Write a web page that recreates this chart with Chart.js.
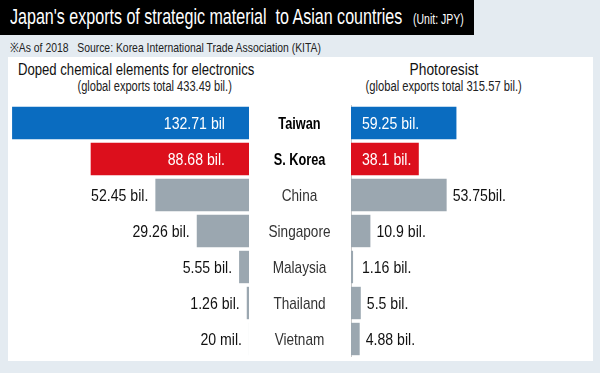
<!DOCTYPE html>
<html>
<head>
<meta charset="utf-8">
<script src="https://cdn.jsdelivr.net/npm/chart.js@4"></script>
<style>
  html, body { margin: 0; padding: 0; }
  body {
    width: 600px; height: 373px; position: relative; overflow: hidden;
    background: #e4ebf1;
    font-family: 'Liberation Sans', Arial, sans-serif;
  }
  .t { position: absolute; white-space: nowrap; }
  .t span { display: inline-block; }
  #titlebar { position: absolute; left: 0; top: 0; width: 474px; height: 35px; background: #000; }
  #panel { position: absolute; left: 8px; top: 57px; width: 585px; height: 304px; background: #fff; }
  canvas { position: absolute; }
</style>
</head>
<body>
<div id="titlebar"></div>
<div class="t" style="left:10px; top:4px; font-size:22px; color:#fff;"><span style="transform:scaleX(0.73); transform-origin:left center;">Japan's exports of strategic material&nbsp; to Asian countries</span></div>
<div class="t" style="left:413px; top:11px; font-size:14px; color:#fff;"><span style="transform:scaleX(0.75); transform-origin:left center;">(Unit: JPY)</span></div>
<div class="t" style="left:10px; top:38px; font-size:13px; color:#222;"><span style="transform:scaleX(0.8); transform-origin:left center;">※As of 2018&nbsp;&nbsp; Source: Korea International Trade Association (KITA)</span></div>
<div id="panel"></div>
<div class="t" style="left:18px; top:61px; font-size:16px; color:#111;"><span style="transform:scaleX(0.82); transform-origin:left center;">Doped chemical elements for electronics</span></div>
<div class="t" style="left:55px; width:200px; text-align:center; top:78px; font-size:14px; color:#222;"><span style="transform:scaleX(0.79); transform-origin:center center;">(global exports total 433.49 bil.)</span></div>
<div class="t" style="left:344px; width:200px; text-align:center; top:61px; font-size:16px; color:#111;"><span style="transform:scaleX(0.86); transform-origin:center center;">Photoresist</span></div>
<div class="t" style="left:344px; width:200px; text-align:center; top:78px; font-size:14px; color:#222;"><span style="transform:scaleX(0.8); transform-origin:center center;">(global exports total 315.57 bil.)</span></div>
<canvas id="leftChart" style="left:8px; top:105px;" width="241" height="252"></canvas>
<canvas id="rightChart" style="left:248px; top:105px;" width="345" height="252"></canvas>
<script>
const countries = ['Taiwan', 'S. Korea', 'China', 'Singapore', 'Malaysia', 'Thailand', 'Vietnam'];
const dopedValues = [132.71, 88.68, 52.45, 29.26, 5.55, 1.26, 0.02];
const dopedLabels = ['132.71 bil', '88.68 bil.', '52.45 bil.', '29.26 bil.', '5.55 bil.', '1.26 bil.', '20 mil.'];
const photoValues = [59.25, 38.1, 53.75, 10.9, 1.16, 5.5, 4.88];
const photoLabels = ['59.25 bil.', '38.1 bil.', '53.75bil.', '10.9 bil.', '1.16 bil.', '5.5 bil.', '4.88 bil.'];
const barColors = ['#0a6cc0', '#dc0f1c', '#9ba7b0', '#9ba7b0', '#9ba7b0', '#9ba7b0', '#9ba7b0'];

const FONT = "'Liberation Sans', Arial, sans-serif";

// narrow text: the original uses a condensed gothic face
function narrowText(ctx, text, x, y, align, sx) {
    ctx.save();
    ctx.translate(x, y);
    ctx.scale(sx, 1);
    ctx.textAlign = align;
    ctx.fillText(text, 0, 0);
    ctx.restore();
}

// value text beside / inside each bar
function valueLabels(texts, side) {
    return {
        id: 'valueLabels',
        afterDatasetsDraw(chart) {
            const ctx = chart.ctx;
            const meta = chart.getDatasetMeta(0);
            ctx.save();
            ctx.font = '17px ' + FONT;
            ctx.textBaseline = 'middle';
            meta.data.forEach((bar, i) => {
                const inside = i < 2;
                ctx.fillStyle = inside ? '#fff' : '#111';
                if (side === 'left') {
                    const x = inside ? bar.base - 24 : Math.min(bar.x - 7, bar.base - 6);
                    narrowText(ctx, texts[i], x, bar.y + 1, 'right', 0.83);
                } else {
                    const x = inside ? bar.base + 11 : Math.max(bar.x + 6, bar.base + 11);
                    narrowText(ctx, texts[i], x, bar.y + 1, 'left', 0.83);
                }
            });
            ctx.restore();
        }
    };
}

// country names in the gap between the two halves, on the y scale's ticks
const categoryNames = {
    id: 'categoryNames',
    afterDraw(chart) {
        const ctx = chart.ctx;
        const yScale = chart.scales.y;
        const cx = yScale.left + yScale.width / 2;
        ctx.save();
        ctx.textBaseline = 'middle';
        chart.data.labels.forEach((name, i) => {
            const strong = i < 2;
            ctx.font = (strong ? 'bold ' : '') + '17px ' + FONT;
            ctx.fillStyle = strong ? '#000' : '#333';
            narrowText(ctx, name, cx, yScale.getPixelForTick(i) + 1, 'center', strong ? 0.75 : 0.8);
        });
        ctx.restore();
    }
};

new Chart(document.getElementById('leftChart'), {
    type: 'bar',
    data: {
        labels: countries,
        datasets: [{
            data: dopedValues,
            backgroundColor: barColors,
            barPercentage: 1,
            categoryPercentage: 0.9
        }]
    },
    options: {
        indexAxis: 'y',
        responsive: false,
        animation: false,
        layout: { padding: 0 },
        plugins: { legend: { display: false }, tooltip: { enabled: false } },
        scales: {
            x: { display: false, reverse: true, min: 0, max: 135 },
            y: {
                position: 'right',
                ticks: { display: false },
                grid: { display: false, drawTicks: false },
                border: { color: '#c8c8c8', width: 1 }
            }
        }
    },
    plugins: [valueLabels(dopedLabels, 'left')]
});

new Chart(document.getElementById('rightChart'), {
    type: 'bar',
    data: {
        labels: countries,
        datasets: [{
            data: photoValues,
            backgroundColor: barColors,
            barPercentage: 1,
            categoryPercentage: 0.9
        }]
    },
    options: {
        indexAxis: 'y',
        responsive: false,
        animation: false,
        layout: { padding: 0 },
        plugins: { legend: { display: false }, tooltip: { enabled: false } },
        scales: {
            x: { display: false, min: 0, max: 136 },
            y: {
                position: 'left',
                afterFit: scale => { scale.width = 103; },
                ticks: { display: false },
                grid: { display: false, drawTicks: false },
                border: { color: '#c8c8c8', width: 1 }
            }
        }
    },
    plugins: [valueLabels(photoLabels, 'right'), categoryNames]
});
</script>
</body>
</html>
